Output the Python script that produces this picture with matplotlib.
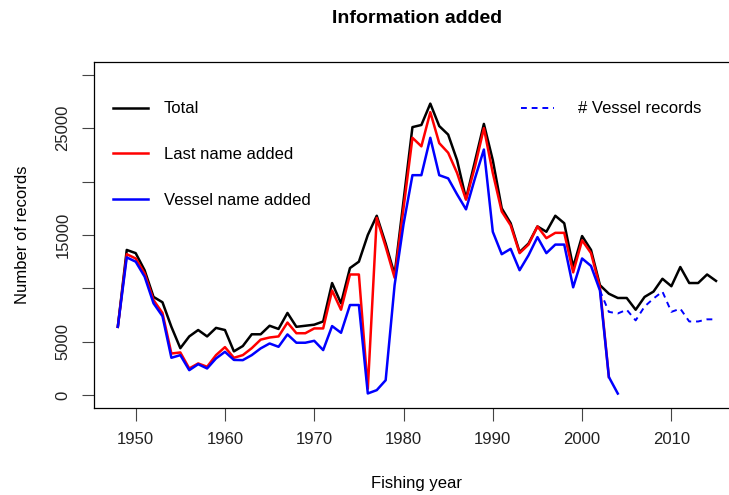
import numpy as np
import matplotlib
matplotlib.use("Agg")
import matplotlib.pyplot as plt

plt.rcParams['font.family'] = ['Liberation Sans', 'DejaVu Sans']

# ---- data ------------------------------------------------------------------
years = np.arange(1948, 2016)

total = [6400, 13600, 13300, 11700, 9200, 8700, 6400, 4400, 5500, 6100,
         5500, 6300, 6100, 4100, 4600, 5700, 5700, 6500, 6200, 7700,
         6400, 6500, 6600, 6900, 10500, 8600, 11900, 12500, 15000, 16800,
         14200, 11300, 18200, 25100, 25300, 27300, 25200, 24400, 22000, 18400,
         21900, 25400, 22000, 17500, 16100, 13400, 14200, 15800, 15300, 16800,
         16100, 12000, 14900, 13600, 10300, 9500, 9100, 9100, 8000, 9200,
         9700, 10900, 10200, 12000, 10500, 10500, 11300, 10700]

lastname_years = np.arange(1948, 2004)
lastname = [6400, 13200, 12800, 11400, 8900, 7700, 3900, 4000, 2500, 2970,
            2660, 3750, 4500, 3500, 3750, 4400, 5200, 5400, 5500, 6800,
            5800, 5800, 6250, 6250, 9800, 8000, 11300, 11300, 600, 16600,
            13900, 11000, 17500, 24100, 23300, 26500, 23600, 22700, 20800, 18300,
            21400, 25000, 20800, 17200, 15900, 13300, 14100, 15800, 14700, 15200,
            15200, 11500, 14500, 13300, 10100, 1700]

vessel_years = np.arange(1948, 2005)
vessel = [6400, 12900, 12500, 11100, 8600, 7400, 3500, 3750, 2340, 2900,
          2500, 3440, 4060, 3300, 3280, 3750, 4380, 4840, 4530, 5690,
          4910, 4910, 5090, 4220, 6470, 5840, 8440, 8440, 160, 470,
          1400, 10300, 16000, 20600, 20600, 24100, 20600, 20300, 18800, 17400,
          20300, 23000, 15300, 13200, 13700, 11700, 13100, 14800, 13300, 14100,
          14100, 10100, 12800, 12100, 9800, 1700, 150]

rec_years = np.arange(2002, 2016)
vessel_records = [9800, 7800, 7650, 8000, 7000, 8300, 9050, 9700, 7800, 8100,
                  6900, 6900, 7100, 7100]

ytick_vals = [0, 5000, 10000, 15000, 20000, 25000, 30000]
ytick_labels = ['0', '5000', '', '15000', '', '25000', '']
xtick_vals = [1950, 1960, 1970, 1980, 1990, 2000, 2010]

# ---- drawing ----------------------------------------------------------------
fig = plt.figure(figsize=(7.29, 4.95), dpi=100)
ax = fig.add_axes([0.1288, 0.1758, 0.8862, 0.699])

l1, = ax.plot(years, total, color='black', lw=1.8, label='Total')
l2, = ax.plot(lastname_years, lastname, color='red', lw=1.8, label='Last name added')
l3, = ax.plot(vessel_years, vessel, color='blue', lw=1.8, label='Vessel name added')
l4, = ax.plot(rec_years, vessel_records, color='blue', lw=1.4, dashes=(3, 2.5),
              label='# Vessel records')

ax.set_xlim(1945.32, 2017.68)
ax.set_ylim(-1200, 31200)

ax.set_xticks(xtick_vals)
ax.set_yticks(ytick_vals)
ax.set_yticklabels(ytick_labels, rotation=90, va='center')
ax.tick_params(axis='both', length=9, width=0.8, color='#444444',
               labelsize=12, labelcolor='#222222')
ax.tick_params(axis='x', pad=8)
ax.tick_params(axis='y', pad=8)
for s in ax.spines.values():
    s.set_linewidth(0.9)
    s.set_color('black')

ax.set_xlabel('Fishing year', fontsize=12, va='center')
ax.xaxis.set_label_coords(0.5, -0.217)
ax.set_ylabel('Number of records', fontsize=12, va='center')
ax.yaxis.set_label_coords(-0.111, 0.5)

ax.set_title('Information added', fontsize=14, fontweight='bold',
             y=1.125, pad=0, va='center')

leg1 = ax.legend(handles=[l1, l2, l3], loc='upper left',
                 bbox_to_anchor=(0.0296, 0.886), frameon=False, fontsize=12,
                 handlelength=2.1, handletextpad=0.95, labelspacing=1.84,
                 borderpad=0, borderaxespad=0)
ax.add_artist(leg1)
ax.legend(handles=[l4], loc='upper left', bbox_to_anchor=(0.661, 0.886),
          frameon=False, fontsize=12, handlelength=2.0, handletextpad=1.44,
          borderpad=0, borderaxespad=0)

fig.savefig('out.png', dpi=100)
